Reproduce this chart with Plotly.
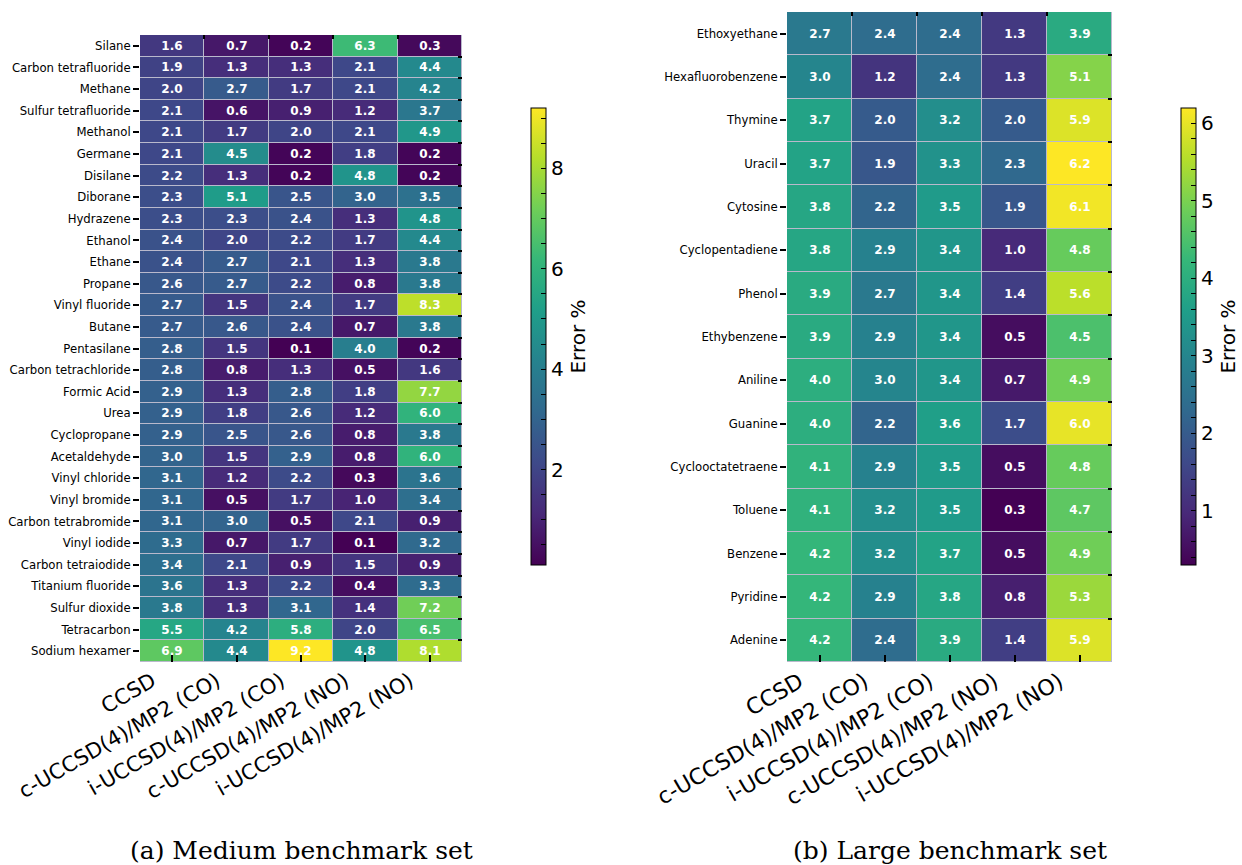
import plotly.graph_objects as go

methods = ["CCSD", "c-UCCSD(4)/MP2 (CO)", "i-UCCSD(4)/MP2 (CO)",
           "c-UCCSD(4)/MP2 (NO)", "i-UCCSD(4)/MP2 (NO)"]

medium_molecules = ["Silane", "Carbon tetrafluoride", "Methane", "Sulfur tetrafluoride",
                    "Methanol", "Germane", "Disilane", "Diborane", "Hydrazene", "Ethanol",
                    "Ethane", "Propane", "Vinyl fluoride", "Butane", "Pentasilane",
                    "Carbon tetrachloride", "Formic Acid", "Urea", "Cyclopropane",
                    "Acetaldehyde", "Vinyl chloride", "Vinyl bromide", "Carbon tetrabromide",
                    "Vinyl iodide", "Carbon tetraiodide", "Titanium fluoride",
                    "Sulfur dioxide", "Tetracarbon", "Sodium hexamer"]
medium_errors = [
    [1.6, 0.7, 0.2, 6.3, 0.3],
    [1.9, 1.3, 1.3, 2.1, 4.4],
    [2.0, 2.7, 1.7, 2.1, 4.2],
    [2.1, 0.6, 0.9, 1.2, 3.7],
    [2.1, 1.7, 2.0, 2.1, 4.9],
    [2.1, 4.5, 0.2, 1.8, 0.2],
    [2.2, 1.3, 0.2, 4.8, 0.2],
    [2.3, 5.1, 2.5, 3.0, 3.5],
    [2.3, 2.3, 2.4, 1.3, 4.8],
    [2.4, 2.0, 2.2, 1.7, 4.4],
    [2.4, 2.7, 2.1, 1.3, 3.8],
    [2.6, 2.7, 2.2, 0.8, 3.8],
    [2.7, 1.5, 2.4, 1.7, 8.3],
    [2.7, 2.6, 2.4, 0.7, 3.8],
    [2.8, 1.5, 0.1, 4.0, 0.2],
    [2.8, 0.8, 1.3, 0.5, 1.6],
    [2.9, 1.3, 2.8, 1.8, 7.7],
    [2.9, 1.8, 2.6, 1.2, 6.0],
    [2.9, 2.5, 2.6, 0.8, 3.8],
    [3.0, 1.5, 2.9, 0.8, 6.0],
    [3.1, 1.2, 2.2, 0.3, 3.6],
    [3.1, 0.5, 1.7, 1.0, 3.4],
    [3.1, 3.0, 0.5, 2.1, 0.9],
    [3.3, 0.7, 1.7, 0.1, 3.2],
    [3.4, 2.1, 0.9, 1.5, 0.9],
    [3.6, 1.3, 2.2, 0.4, 3.3],
    [3.8, 1.3, 3.1, 1.4, 7.2],
    [5.5, 4.2, 5.8, 2.0, 6.5],
    [6.9, 4.4, 9.2, 4.8, 8.1],
]

large_molecules = ["Ethoxyethane", "Hexafluorobenzene", "Thymine", "Uracil", "Cytosine",
                   "Cyclopentadiene", "Phenol", "Ethybenzene", "Aniline", "Guanine",
                   "Cyclooctatetraene", "Toluene", "Benzene", "Pyridine", "Adenine"]
large_errors = [
    [2.7, 2.4, 2.4, 1.3, 3.9],
    [3.0, 1.2, 2.4, 1.3, 5.1],
    [3.7, 2.0, 3.2, 2.0, 5.9],
    [3.7, 1.9, 3.3, 2.3, 6.2],
    [3.8, 2.2, 3.5, 1.9, 6.1],
    [3.8, 2.9, 3.4, 1.0, 4.8],
    [3.9, 2.7, 3.4, 1.4, 5.6],
    [3.9, 2.9, 3.4, 0.5, 4.5],
    [4.0, 3.0, 3.4, 0.7, 4.9],
    [4.0, 2.2, 3.6, 1.7, 6.0],
    [4.1, 2.9, 3.5, 0.5, 4.8],
    [4.1, 3.2, 3.5, 0.3, 4.7],
    [4.2, 3.2, 3.7, 0.5, 4.9],
    [4.2, 2.9, 3.8, 0.8, 5.3],
    [4.2, 2.4, 3.9, 1.4, 5.9],
]

captions = ["(a) Medium benchmark set", "(b) Large benchmark set"]
cbar_title = "Error %"

W, H = 1242, 865
def px(x): return x / W
def py(y): return 1 - y / H

fig = go.Figure()
fig.add_trace(go.Heatmap(
    z=medium_errors, x=methods, y=medium_molecules, coloraxis="coloraxis",
    xgap=1, ygap=1, texttemplate="<b>%{z:.1f}</b>",
    textfont=dict(family="DejaVu Sans", size=12, color="white"),
    xaxis="x", yaxis="y", hoverinfo="skip"))
fig.add_trace(go.Heatmap(
    z=large_errors, x=methods, y=large_molecules, coloraxis="coloraxis2",
    xgap=1, ygap=1, texttemplate="<b>%{z:.1f}</b>",
    textfont=dict(family="DejaVu Sans", size=12, color="white"),
    xaxis="x2", yaxis="y2", hoverinfo="skip"))

def cb_ticks(lo, hi, step, label_every):
    vals, texts = [], []
    v = step
    while v <= hi + 1e-9:
        if v >= lo - 1e-9:
            vals.append(round(v, 3))
            r = round(v / label_every, 6)
            texts.append(str(int(round(v))) if abs(r - round(r)) < 1e-6 else "")
        v += step
    return vals, texts

mv = [v for row in medium_errors for v in row]
lv = [v for row in large_errors for v in row]
t1v, t1t = cb_ticks(min(mv), max(mv), 0.5, 2)
t2v, t2t = cb_ticks(min(lv), max(lv), 0.2, 1)

cb_common = dict(thickness=15, lenmode="pixels", len=457, yanchor="middle",
                 y=py(336.5), xanchor="left", xpad=0, ypad=0,
                 outlinewidth=1, outlinecolor="black", ticks="inside", ticklen=5,
                 tickcolor="black", tickwidth=1,
                 tickfont=dict(family="DejaVu Sans", size=20, color="black"),
                 title=dict(text=cbar_title, side="right",
                            font=dict(family="DejaVu Sans", size=20, color="black")))

fig.update_layout(
    width=W, height=H, margin=dict(l=0, r=0, t=0, b=0, autoexpand=False),
    paper_bgcolor="white", plot_bgcolor="#b9b9cc",
    font=dict(family="DejaVu Sans", color="black"),
    coloraxis=dict(colorscale="Viridis", cmin=min(mv), cmax=max(mv),
                   colorbar=dict(x=px(531), tickvals=t1v, ticktext=t1t, **cb_common)),
    coloraxis2=dict(colorscale="Viridis", cmin=min(lv), cmax=max(lv),
                    colorbar=dict(x=px(1181), tickvals=t2v, ticktext=t2t, **cb_common)),
)

xcommon = dict(ticks="inside", ticklen=7, tickcolor="black", tickwidth=1.5,
               tickangle=-30, ticklabelshift=-20, ticklabelstandoff=2,
               showgrid=False, zeroline=False, showline=False, automargin=False)
ycommon = dict(ticks="outside", ticklen=6, tickcolor="black", tickwidth=1.5,
               autorange="reversed", tickfont=dict(family="DejaVu Sans", size=11.7, color="black"),
               showgrid=False, zeroline=False, showline=False, automargin=False)

m_dom_x, m_dom_y = [px(140), px(462)], [py(662), py(35)]
l_dom_x, l_dom_y = [px(787), px(1112)], [py(662), py(12)]

fig.update_layout(
    xaxis=dict(domain=m_dom_x, anchor="y",
               tickfont=dict(family="DejaVu Sans", size=21, color="black"), **xcommon),
    yaxis=dict(domain=m_dom_y, anchor="x", **ycommon),
    xaxis2=dict(domain=l_dom_x, anchor="y2",
                tickfont=dict(family="DejaVu Sans", size=22, color="black"), **xcommon),
    yaxis2=dict(domain=l_dom_y, anchor="x2", **ycommon),
)

# small boundary ticks on the top and right edges (secondary axes)
def edge_axes(nx, ny, xref, yref):
    xb = [i - 0.5 for i in range(nx + 1)]
    yb = [i - 0.5 for i in range(ny + 1)]
    xa = dict(overlaying=xref, anchor=yref, side="top", range=[-0.5, nx - 0.5],
              tickmode="array", tickvals=xb, ticks="inside", ticklen=4, tickwidth=1.5,
              tickcolor="black", showticklabels=False, showgrid=False, zeroline=False,
              showline=False, automargin=False)
    ya = dict(overlaying=yref, anchor=xref, side="right", range=[ny - 0.5, -0.5],
              tickmode="array", tickvals=yb, ticks="inside", ticklen=4, tickwidth=1.5,
              tickcolor="black", showticklabels=False, showgrid=False, zeroline=False,
              showline=False, automargin=False)
    return xa, ya

xa3, ya3 = edge_axes(len(methods), len(medium_molecules), "x", "y")
xa4, ya4 = edge_axes(len(methods), len(large_molecules), "x2", "y2")
fig.update_layout(xaxis3=xa3, yaxis3=ya3, xaxis4=xa4, yaxis4=ya4)
# invisible traces to bind the edge axes
fig.add_trace(go.Scatter(x=[None], y=[None], xaxis="x3", yaxis="y3",
                         showlegend=False, hoverinfo="skip"))
fig.add_trace(go.Scatter(x=[None], y=[None], xaxis="x4", yaxis="y4",
                         showlegend=False, hoverinfo="skip"))
fig.update_layout(xaxis3=dict(anchor="y3"), yaxis3=dict(anchor="x3"),
                  xaxis4=dict(anchor="y4"), yaxis4=dict(anchor="x4"))

for cx, txt in zip([px(301), px(950)], captions):
    fig.add_annotation(x=cx, y=py(850), xref="paper", yref="paper", text=txt,
                       showarrow=False, xanchor="center", yanchor="middle",
                       font=dict(family="DejaVu Serif", size=25, color="black"))

fig.write_html("out.html")
